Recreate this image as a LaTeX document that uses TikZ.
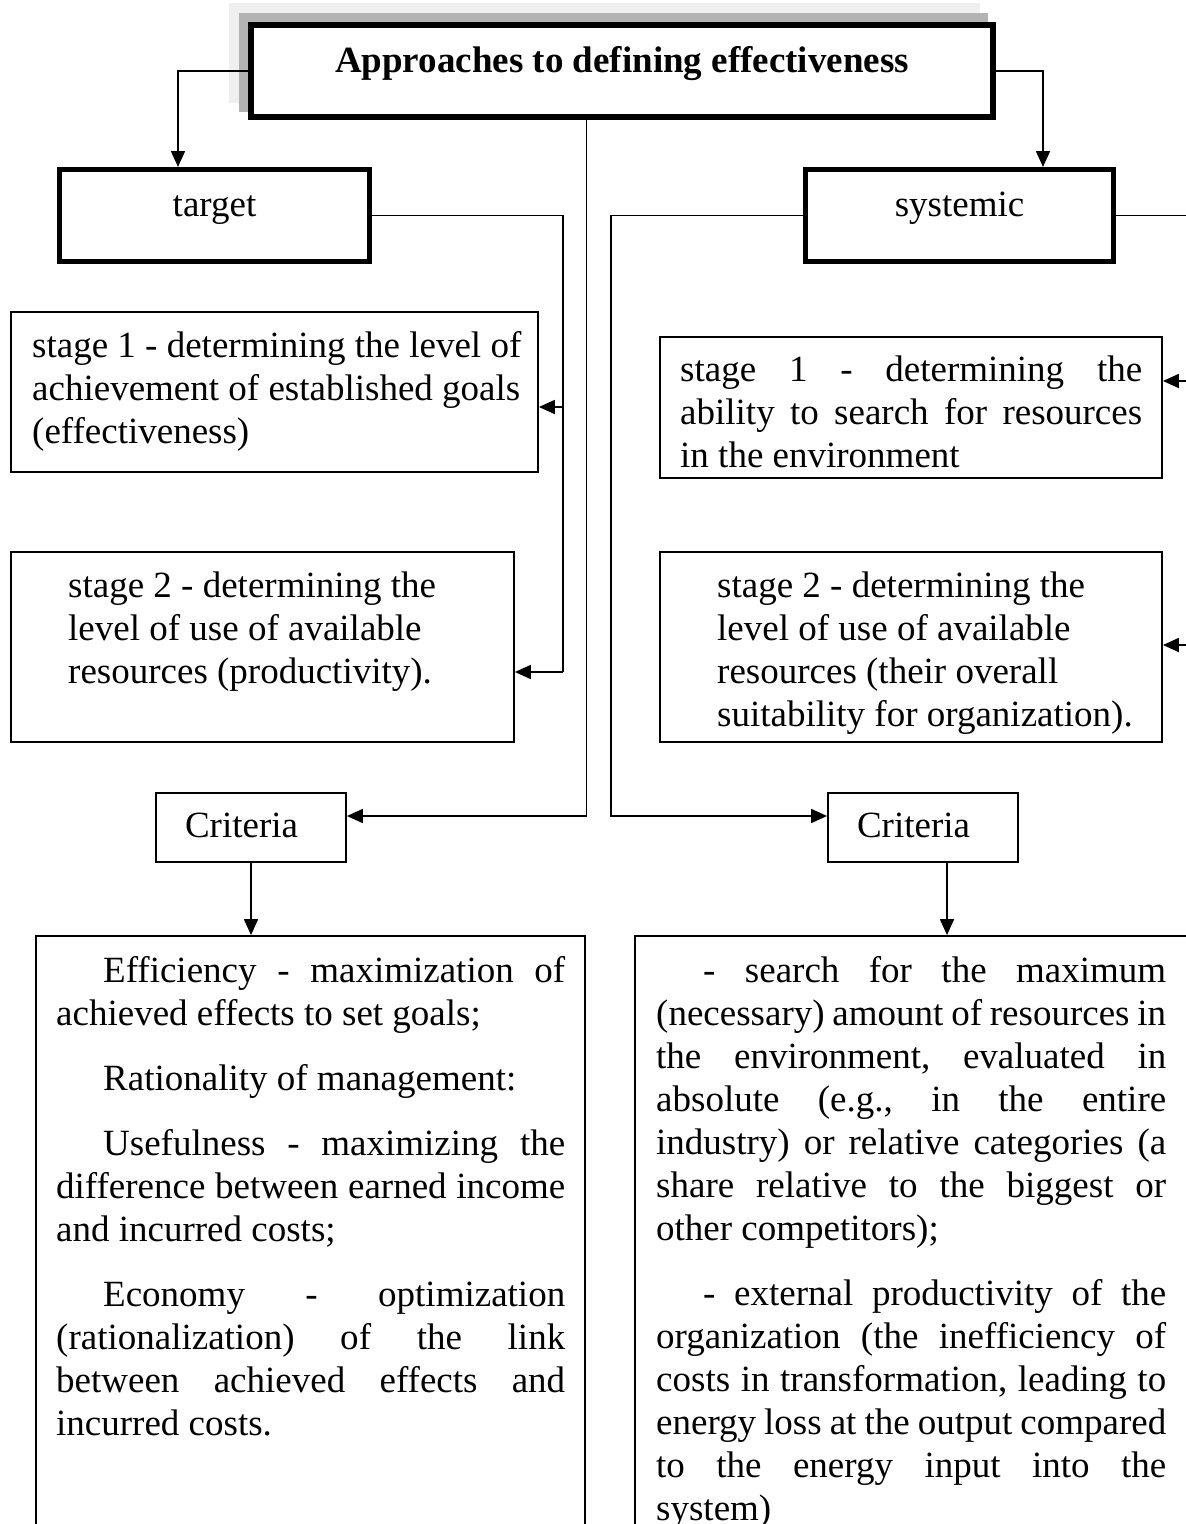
\documentclass[tikz,border=0pt]{standalone}
\usepackage{fontspec}
\setmainfont{Liberation Serif}
\usetikzlibrary{arrows.meta,calc}
\frenchspacing
\newcommand\bodyfont{\fontsize{37}{43}\selectfont}
\newcommand\ind{\hspace*{47pt}}
\definecolor{shadelight}{HTML}{EFEFEF}
\definecolor{shadedark}{HTML}{B3B3B3}

\begin{document}
\begin{tikzpicture}[x=1pt,y=-1pt,
  box/.style={draw, line width=1.8pt, inner sep=0pt},
  heavybox/.style={draw, line width=5pt, inner sep=0pt, font=\bodyfont},
  critbox/.style={draw, line width=1.8pt, inner xsep=29pt, inner ysep=0pt,
    text width=132pt, align=flush left, text height=44pt, text depth=25pt, font=\bodyfont},
  txt/.style={inner sep=0pt, anchor=base west, font=\bodyfont},
  link/.style={line width=1.8pt},
  arr/.style={link, -{Triangle[length=16pt,width=14pt]}},
]
\useasboundingbox (0,0) rectangle (1186,1524);
\clip (0,0) rectangle (1186,1524);

% stacked shadow behind the heading
\fill[shadelight] (229,3) rectangle (980,103);
\fill[shadedark] (239,13) rectangle (988,112);

% heading
\node[draw, fill=white, line width=6pt, inner sep=0pt, minimum width=742pt,
  text height=47pt, text depth=45pt, anchor=base, font=\bodyfont\bfseries]
  (title) at (622,72) {Approaches to defining effectiveness};

% the two approaches
\node[heavybox, minimum width=310pt, text height=46.5pt, text depth=45.5pt, anchor=base]
  (target) at (214.5,216) {target};
\node[heavybox, minimum width=308pt, text height=46.5pt, text depth=45.5pt, anchor=base]
  (systemic) at (959.5,216) {systemic};

% stages of the target approach
\node[box, minimum width=527pt, minimum height=160pt] (s1l) at (274.5,392) {};
\node[txt, text width=600pt, align=flush left] (s1ltext) at (32,357)
  {stage 1 - determining the level of\\achievement of established goals\\(effectiveness)};
\node[box, minimum width=503pt, minimum height=190pt] (s2l) at (262.5,647) {};
\node[txt, text width=600pt, align=flush left] (s2ltext) at (68,597)
  {stage 2 - determining the\\level of use of available\\resources (productivity).};

% stages of the systemic approach
\node[box, minimum width=502pt, minimum height=141pt] (s1r) at (911,407.5) {};
\node[txt, text width=462pt, align=justify] (s1rtext) at (680,381)
  {stage 1 - determining the\linebreak ability to search for resources\linebreak in the environment};
\node[box, minimum width=502pt, minimum height=190pt] (s2r) at (911,647) {};
\node[txt, text width=600pt, align=flush left] (s2rtext) at (717,597)
  {stage 2 - determining the\\level of use of available\\resources (their overall\\suitability for organization).};

% criteria
\node[critbox] (critL) at (251,827.5) {Criteria};
\node[critbox] (critR) at (923,827.5) {Criteria};

% criteria lists
\node[box, minimum width=549pt, minimum height=664pt] (bigL) at (310.5,1268) {};
\node[txt, text width=509pt, align=justify] (bigLtext) at (56,982)
  {\setlength\parskip{22pt}\tolerance=10000\hbadness=10000\hyphenpenalty=10000
   \ind Efficiency - maximization of\linebreak achieved effects to set goals;\par
   \ind Rationality of management:\par
   \ind Usefulness - maximizing the\linebreak difference between earned income\linebreak
   and incurred costs;\par
   \ind Economy - optimization\linebreak (rationalization) of the link\linebreak
   between achieved effects and\linebreak incurred costs.};
\node[box, minimum width=615pt, minimum height=664pt] (bigR) at (942.5,1268) {};
\node[txt, text width=510pt, align=justify] (bigRtext) at (656,982)
  {\setlength\parskip{22pt}\tolerance=10000\hbadness=10000\hyphenpenalty=10000
   \ind - search for the maximum\linebreak (necessary) amount of resources in\linebreak
   the environment, evaluated in\linebreak absolute (e.g., in the entire\linebreak
   industry) or relative categories (a\linebreak share relative to the biggest or\linebreak
   other competitors);\par
   \ind - external productivity of the\linebreak organization (the inefficiency of\linebreak
   costs in transformation, leading to\linebreak energy loss at the output compared\linebreak
   to the energy input into the\linebreak system)};

% connectors from the heading
\draw[arr] (title.west) -| ([xshift=121pt]target.north west);
\draw[arr] (title.east) -| ([xshift=240pt]systemic.north west);
\draw[arr] ([xshift=-35.5pt]title.south) |- ([yshift=11.5pt]critL.east);

% target branch
\coordinate (tL) at (563,672);
\coordinate (tLa) at (563,407);
\draw[link] (target.east) -| (tL);
\draw[arr] (tLa) -- (tLa -| s1l.east);
\draw[arr] (tL) -- (tL -| s2l.east);

% systemic branch
\coordinate (sL) at (611,816);
\draw[arr] (systemic.west) -| (sL) -- (sL -| critR.west);
\coordinate (sR) at (1200,645);
\coordinate (sRa) at (1200,381);
\draw[link] (systemic.east) -| (sR);
\draw[arr] (sRa) -- (sRa -| s1r.east);
\draw[arr] (sR) -- (sR -| s2r.east);

% criteria to lists
\draw[arr] (critL.south) -- (critL.south |- bigL.north);
\draw[arr] ([xshift=24pt]critR.south) -- ([xshift=24pt]critR.south |- bigR.north);
\end{tikzpicture}
\end{document}
